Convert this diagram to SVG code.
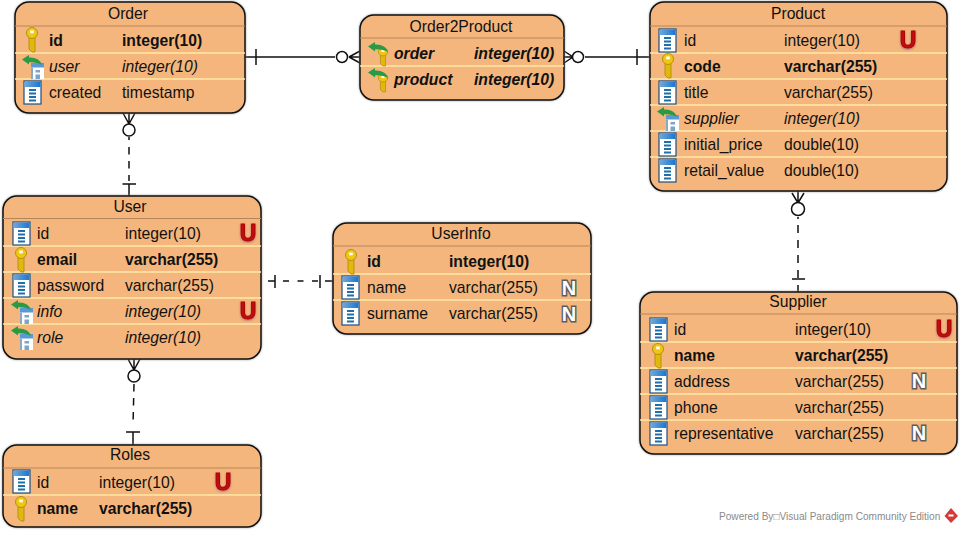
<svg xmlns="http://www.w3.org/2000/svg" xmlns:xlink="http://www.w3.org/1999/xlink" width="963" height="533" viewBox="0 0 963 533">
<style>
text{font-family:"Liberation Sans",Arial,sans-serif;font-size:15.7px;fill:#111}
.t{text-anchor:middle}
.b{font-weight:bold}
.i{font-style:italic}
.box{fill:#f4b67c;stroke:#111;stroke-width:1.5;filter:drop-shadow(0 0 1px #999)}
.hd{stroke:#b5855a;stroke-width:1.2;fill:none}
.sep{stroke:#ffe9a6;stroke-width:1.5;fill:none}
text.u{font-size:23px;font-weight:bold;fill:#c00d0d;stroke:#b00000;stroke-width:1;text-anchor:middle;filter:drop-shadow(0 1px 1px #a67)}
text.n{font-size:20px;font-weight:bold;fill:#fff;stroke:#5c5c5c;stroke-width:3;paint-order:stroke;text-anchor:middle}
text.wm{font-size:10.1px;fill:#8a8a8a}
.ln{stroke:#111;stroke-width:1.5;fill:none}
.d{stroke-dasharray:7.500 6.500}
.c{fill:#fff;stroke:#111;stroke-width:1.5}
</style>
<defs>
<linearGradient id="bl" x1="0" x2="1" y1="0" y2="0"><stop offset="0" stop-color="#6fa8dc"/><stop offset="1" stop-color="#1976d2"/></linearGradient>
<g id="col"><rect x="0" y="0" width="17" height="23" fill="#fff" stroke="#1d4f80" stroke-width="1.2"/><rect x=".6" y=".6" width="15.8" height="5.4" fill="url(#bl)"/><path d="M5 9h7M5 12.500h7M5 16h7M5 19.500h7" stroke="#1f6fa8" stroke-width="2"/></g>
<g id="key"><path d="M-3 9V21L0 24H3V9Z" fill="#e2b80c" stroke="#a8890c" stroke-width=".8"/><circle cx="0" cy="5" r="5.500" fill="#f0c514" stroke="#b3920e"/><rect x="-1.800" y="2.500" width="3.600" height="2.800" fill="#fff"/></g>
<g id="arrow"><path d="M0 4.500 7 0V2.500C13 2 19 5 20 10 16 8 11 7 7 7.500V9.500Z" fill="#2a9a45"/></g>
<g id="fk"><rect x="9" y="8" width="13" height="16" fill="#fff"/><rect x="9" y="8" width="13" height="4.500" fill="#5d98d6"/><path d="M13.500 15h4.500v2.500h-4.500zM13.500 19.500h4.500v4.500h-4.500z" fill="#7aa6c8"/><path d="M9 12.500h2v11.500h-2z" fill="#8aa9c4"/><use xlink:href="#arrow"/></g>
<g id="fkkey"><use xlink:href="#key" transform="translate(15,6) scale(.85,.75)"/><use xlink:href="#arrow"/></g>
</defs>

<g id="connectors">
<path class="ln" d="M245 57H335M256 49V65M349 57H360M349 57 360 51M349 57 360 63"/>
<circle class="c" cx="342" cy="57" r="5.500"/>
<path class="ln" d="M585 57H650M637 49V65M564 51 573 57 564 63M562 57H572"/>
<circle class="c" cx="578" cy="57" r="5.500"/>
<path class="ln" d="M129 113V124M123 113 129 124 135 113"/>
<circle class="c" cx="129" cy="130" r="6"/>
<path class="ln" d="M129 137V140"/>
<path class="ln d" d="M129 147V181"/>
<path class="ln" d="M129 184V196M122.500 184H136"/>
<path class="ln" d="M798 191V203M792 193 798 203 804 193"/>
<circle class="c" cx="798" cy="209" r="6.500"/>
<path class="ln" d="M798 217V219"/>
<path class="ln" style="stroke-dasharray:8 7" d="M798 225V278"/>
<path class="ln" d="M798 285V292M792 279H805"/>
<path class="ln" d="M134 359V370M128 359 134 370 140 359"/>
<circle class="c" cx="134" cy="376" r="6"/>
<path class="ln d" d="M134 384L133 426"/>
<path class="ln" d="M133 432V445M126 432H140"/>
<path class="ln" d="M268 281H275M275 275V288"/>
<path class="ln" style="stroke-dasharray:6 8.500" d="M283 281H318"/>
<path class="ln" d="M325 281H333M320 275V288"/>
</g>

<g id="order">
<rect class="box" x="15" y="2" width="230" height="111" rx="14"/>
<path class="hd" d="M15 26H245"/><path class="sep" d="M15 53H245M15 79H245"/>
<text class="t" x="128" y="19">Order</text>
<use xlink:href="#key" x="32" y="28"/><text class="b" x="49" y="46">id</text><text class="b" x="122" y="46">integer(10)</text>
<use xlink:href="#fk" x="22" y="55"/><text class="i" x="49" y="72">user</text><text class="i" x="122" y="72">integer(10)</text>
<use xlink:href="#col" x="24" y="81"/><text x="49" y="98">created</text><text x="122" y="98">timestamp</text>
</g>

<g id="order2product">
<rect class="box" x="360" y="15" width="204" height="85" rx="14"/>
<path class="hd" d="M360 38H564"/><path class="sep" d="M360 66H564"/>
<text class="t" x="461" y="32">Order2Product</text>
<use xlink:href="#fkkey" x="368" y="42"/><text class="b i" x="394" y="59">order</text><text class="b i" x="474" y="59">integer(10)</text>
<use xlink:href="#fkkey" x="368" y="68"/><text class="b i" x="394" y="85">product</text><text class="b i" x="474" y="85">integer(10)</text>
</g>

<g id="product">
<rect class="box" x="650" y="2" width="297" height="189" rx="14"/>
<path class="hd" d="M650 26H947"/><path class="sep" d="M650 53H947M650 79H947M650 105H947M650 131H947M650 157H947"/>
<text class="t" x="798" y="19">Product</text>
<use xlink:href="#col" x="659" y="29"/><text x="684" y="46">id</text><text x="784" y="46">integer(10)</text><text class="u" x="908" y="48">U</text>
<use xlink:href="#key" x="668" y="54"/><text class="b" x="684" y="72">code</text><text class="b" x="784" y="72">varchar(255)</text>
<use xlink:href="#col" x="659" y="81"/><text x="684" y="98">title</text><text x="784" y="98">varchar(255)</text>
<use xlink:href="#fk" x="657" y="107"/><text class="i" x="684" y="124">supplier</text><text class="i" x="784" y="124">integer(10)</text>
<use xlink:href="#col" x="659" y="133"/><text x="684" y="150">initial_price</text><text x="784" y="150">double(10)</text>
<use xlink:href="#col" x="659" y="159"/><text x="684" y="176">retail_value</text><text x="784" y="176">double(10)</text>
</g>

<g id="user">
<rect class="box" x="3" y="196" width="258" height="163" rx="14"/>
<path class="hd" d="M3 218.500H261"/><path class="sep" d="M3 246H261M3 272H261M3 298H261M3 324H261"/>
<text class="t" x="130" y="212">User</text>
<use xlink:href="#col" x="13" y="222"/><text x="37" y="239">id</text><text x="125" y="239">integer(10)</text><text class="u" x="248" y="241">U</text>
<use xlink:href="#key" x="21" y="248"/><text class="b" x="37" y="265">email</text><text class="b" x="125" y="265">varchar(255)</text>
<use xlink:href="#col" x="13" y="274"/><text x="37" y="291">password</text><text x="125" y="291">varchar(255)</text>
<use xlink:href="#fk" x="11" y="300"/><text class="i" x="37" y="317">info</text><text class="i" x="125" y="317">integer(10)</text><text class="u" x="248" y="319">U</text>
<use xlink:href="#fk" x="11" y="326"/><text class="i" x="37" y="343">role</text><text class="i" x="125" y="343">integer(10)</text>
</g>

<g id="userinfo">
<rect class="box" x="333" y="223" width="258" height="111" rx="14"/>
<path class="hd" d="M333 246H591"/><path class="sep" d="M333 274H591M333 300H591"/>
<text class="t" x="461" y="239">UserInfo</text>
<use xlink:href="#key" x="351" y="250"/><text class="b" x="367" y="267">id</text><text class="b" x="449" y="267">integer(10)</text>
<use xlink:href="#col" x="342" y="276"/><text x="367" y="293">name</text><text x="449" y="293">varchar(255)</text><text class="n" x="569" y="295">N</text>
<use xlink:href="#col" x="342" y="302"/><text x="367" y="319">surname</text><text x="449" y="319">varchar(255)</text><text class="n" x="569" y="321">N</text>
</g>

<g id="supplier">
<rect class="box" x="640" y="292" width="317" height="162" rx="14"/>
<path class="hd" d="M640 314H957"/><path class="sep" d="M640 342H957M640 368H957M640 394H957M640 420H957"/>
<text class="t" x="798" y="307">Supplier</text>
<use xlink:href="#col" x="650" y="318"/><text x="674" y="335">id</text><text x="795" y="335">integer(10)</text><text class="u" x="944" y="337">U</text>
<use xlink:href="#key" x="658" y="344"/><text class="b" x="674" y="361">name</text><text class="b" x="795" y="361">varchar(255)</text>
<use xlink:href="#col" x="650" y="370"/><text x="674" y="387">address</text><text x="795" y="387">varchar(255)</text><text class="n" x="919" y="388">N</text>
<use xlink:href="#col" x="650" y="396"/><text x="674" y="413">phone</text><text x="795" y="413">varchar(255)</text>
<use xlink:href="#col" x="650" y="422"/><text x="674" y="439">representative</text><text x="795" y="439">varchar(255)</text><text class="n" x="919" y="440">N</text>
</g>

<g id="roles">
<rect class="box" x="3" y="445" width="258" height="82" rx="14"/>
<path class="hd" d="M3 468H261"/><path class="sep" d="M3 495H261"/>
<text class="t" x="130" y="460">Roles</text>
<use xlink:href="#col" x="13" y="470"/><text x="37" y="488">id</text><text x="99" y="488">integer(10)</text><text class="u" x="223" y="490">U</text>
<use xlink:href="#key" x="21" y="497"/><text class="b" x="37" y="514">name</text><text class="b" x="99" y="514">varchar(255)</text>
</g>

<g id="watermark">
<text class="wm" x="719" y="520">Powered By□Visual Paradigm Community Edition</text>
<path d="M951 508 958 516 951 523 944.500 516Z" fill="#d33a3a"/><path d="M948.500 514.500h5v2h-5z" fill="#fff"/>
</g>
</svg>
